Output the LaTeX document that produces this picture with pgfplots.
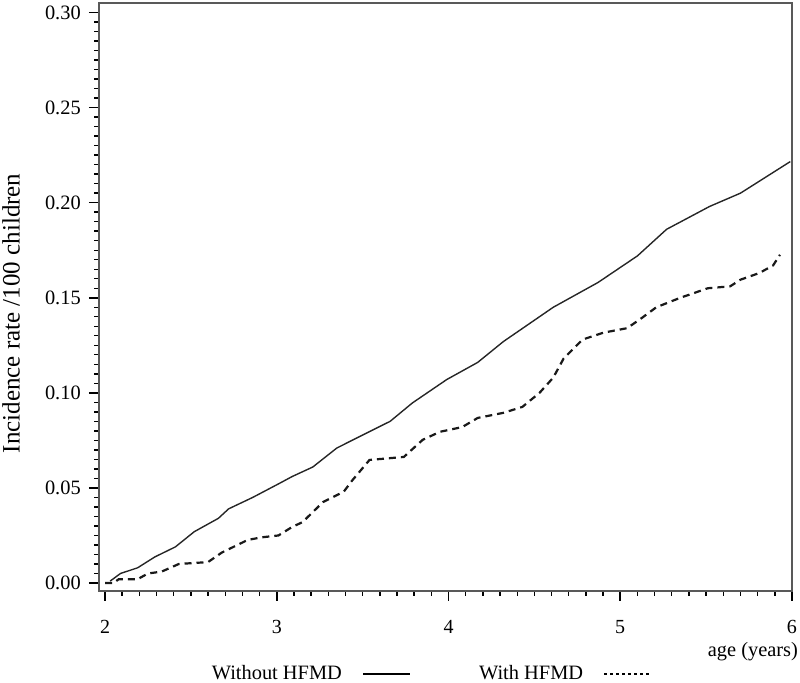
\documentclass[border=0pt]{standalone}
\usepackage{pgfplots}
\pgfplotsset{compat=1.18}
\usepackage{fontspec}
\setmainfont{Liberation Serif}
\begin{document}
\begin{tikzpicture}
\path[use as bounding box] (-49.5pt,-46pt) rectangle (350.5pt,295.5pt);
\begin{axis}[
  at={(0pt,0pt)}, anchor=south west,
  scale only axis, width=346.5pt, height=294pt,
  xmin=1.965, xmax=6, ymin=-0.0042, ymax=0.305,
  xtick={2,3,4,5,6}, ytick={0,0.05,0.10,0.15,0.20,0.25,0.30},
  minor x tick num=9, minor y tick num=9,
  xtick pos=bottom, ytick pos=left,
  tick align=outside,
  major tick length=5pt, minor tick length=2.4pt,
  tick style={black, line width=0.8pt},
  minor tick style={black, line width=0.7pt},
  axis line style={black!65, line width=0.8pt},
  font=\fontsize{10}{12}\selectfont,
  /pgf/number format/assume math mode=true,
  yticklabel style={/pgf/number format/fixed, /pgf/number format/fixed zerofill, /pgf/number format/precision=2, font=\fontsize{10.2}{12}\selectfont, xshift=-0.6pt},
  xticklabel style={font=\fontsize{10}{12}\selectfont, yshift=-6pt},
  ylabel={Incidence rate /100 children},
  ylabel style={at={(axis description cs:-0.127,0.472)}, anchor=center, font=\fontsize{12.5}{14}\selectfont},
  legend plot pos=right,
  legend image code/.code={\draw[#1] (0pt,0pt) -- (23.5pt,0pt);},
  legend style={at={(axis description cs:0.1565,-0.141)}, anchor=west, draw=none, fill=none, inner sep=0pt,
    font=\fontsize{10.2}{12}\selectfont, legend columns=2, column sep=8pt,
    /tikz/every even column/.append style={column sep=32pt}},
  clip=false,
]
\addplot[black!85, line width=0.7pt, forget plot] coordinates {
(2.03,0.001) (2.09,0.005) (2.19,0.008) (2.29,0.0137) (2.41,0.019) (2.52,0.027)
(2.66,0.034) (2.72,0.039) (2.86,0.045) (3.02,0.0526) (3.09,0.056) (3.21,0.061)
(3.35,0.071) (3.56,0.0805) (3.66,0.085) (3.79,0.0947) (3.99,0.107) (4.17,0.116)
(4.32,0.127) (4.61,0.145) (4.87,0.158) (5.10,0.172) (5.27,0.186) (5.52,0.198)
(5.70,0.205) (5.99,0.2216)
};
\addplot[black!90, line width=1.1pt, dash pattern=on 3.5pt off 2.5pt, forget plot] coordinates {
(2.00,0.000) (2.05,0.000) (2.08,0.002) (2.19,0.002) (2.25,0.005) (2.33,0.006)
(2.43,0.010) (2.60,0.011) (2.68,0.016) (2.83,0.0226) (2.91,0.024) (3.01,0.025)
(3.09,0.0295) (3.15,0.032) (3.27,0.0426) (3.39,0.048) (3.44,0.054) (3.54,0.0647)
(3.74,0.0663) (3.85,0.0753) (3.95,0.0795) (4.08,0.082) (4.17,0.0868) (4.32,0.0895)
(4.43,0.0926) (4.53,0.100) (4.61,0.108) (4.67,0.118) (4.78,0.128) (4.90,0.1316)
(5.04,0.134) (5.12,0.139) (5.21,0.145) (5.35,0.150) (5.51,0.155) (5.64,0.156)
(5.70,0.1595) (5.81,0.163) (5.89,0.167) (5.93,0.1726)
};
\addlegendimage{black, line width=1.1pt}
\addlegendentry{Without HFMD}
\addlegendimage{black, line width=1.1pt, dash pattern=on 1.2pt off 1.8pt}
\addlegendentry{With HFMD}
\node[anchor=base east, font=\fontsize{10.2}{12}\selectfont] at ([xshift=6.5pt,yshift=-33pt]rel axis cs:1,0) {age (years)};
\end{axis}
\end{tikzpicture}
\end{document}
